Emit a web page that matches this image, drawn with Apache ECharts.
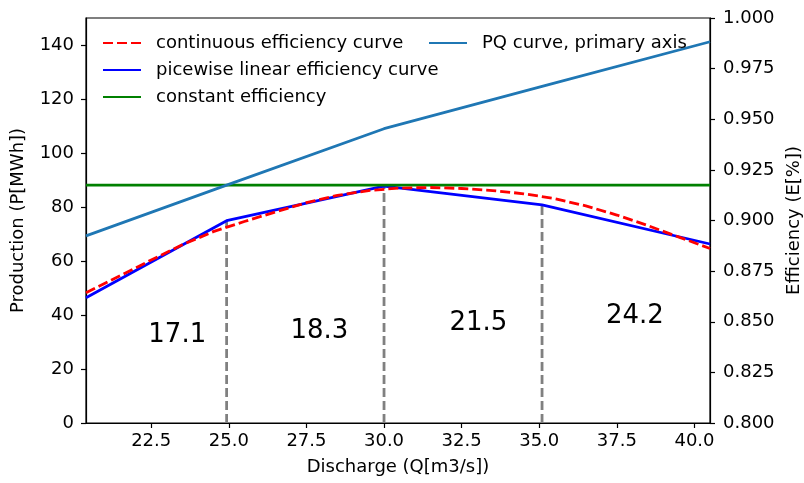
<!DOCTYPE html>
<html>
<head>
<meta charset="utf-8">
<script src="https://cdn.jsdelivr.net/npm/echarts@6/dist/echarts.min.js"></script>
<style>
  html, body { margin: 0; padding: 0; background: #fff; }
  #chart { width: 804px; height: 483px; }
</style>
</head>
<body>
<div id="chart"></div>
<script>
// discharge / production (primary axis)
const pqQ = [20.4, 24.93, 30.0, 35.09, 40.5];
const pqP = [69.3, 88.1, 109.0, 124.7, 141.2];

// efficiency (secondary axis)
const contQ = [20.4, 21.5, 22.5, 23.5, 24.5, 25.5, 26.5, 27.5, 28.5, 29.5, 30.5,
  31.5, 32.5, 33.5, 34.5, 35.5, 36.5, 37.5, 38.5, 39.5, 40.5];
const contE = [0.8643, 0.8727, 0.8805, 0.8880, 0.8945, 0.8995, 0.9042, 0.9088, 0.9124, 0.9148, 0.9160,
  0.9163, 0.9158, 0.9148, 0.9132, 0.9108, 0.9072, 0.9027, 0.8975, 0.8918, 0.8862];
const pieceQ = [20.4, 24.93, 30.0, 35.09, 40.5];
const pieceE = [0.8619, 0.8999, 0.9170, 0.9077, 0.8884];
const constE = 0.9175;

// segment borders and segment annotations
const breakQ = [24.93, 30.0, 35.09];
const breakE = [0.8999, 0.9170, 0.9077];
const segText = ["17.1", "18.3", "21.5", "24.2"];
const segTextQ = [23.34, 27.92, 33.04, 38.08];
const segTextP = [32.6, 33.8, 37.1, 39.6];

const xTicks = [22.5, 25, 27.5, 30, 32.5, 35, 37.5, 40];
const yTicks = [0, 20, 40, 60, 80, 100, 120, 140];
const y2Ticks = [0.8, 0.825, 0.85, 0.875, 0.9, 0.925, 0.95, 0.975, 1.0];

const font = "DejaVu Sans";
const chart = echarts.init(document.getElementById("chart"));

const zip = (a, b) => a.map((v, i) => [v, b[i]]);

const series = [
  {
    name: "continuous efficiency curve",
    type: "line", yAxisIndex: 1, symbol: "none", z: 4,
    data: zip(contQ, contE),
    lineStyle: { color: "#ff0000", width: 2.8, type: [10, 4] },
    itemStyle: { color: "#ff0000" },
  },
  {
    name: "picewise linear efficiency curve",
    type: "line", yAxisIndex: 1, symbol: "none", z: 3,
    data: zip(pieceQ, pieceE),
    lineStyle: { color: "#0000ff", width: 2.8 },
    itemStyle: { color: "#0000ff" },
  },
  {
    name: "constant efficiency",
    type: "line", yAxisIndex: 1, symbol: "none", z: 3,
    data: [[pqQ[0], constE], [pqQ[pqQ.length - 1], constE]],
    lineStyle: { color: "#008000", width: 2.8 },
    itemStyle: { color: "#008000" },
  },
  {
    name: "PQ curve, primary axis",
    type: "line", yAxisIndex: 0, symbol: "none", z: 3,
    data: zip(pqQ, pqP),
    lineStyle: { color: "#1f77b4", width: 2.8 },
    itemStyle: { color: "#1f77b4" },
  },
];

breakQ.forEach((q, i) => {
  series.push({
    type: "line", yAxisIndex: 1, symbol: "none", z: 2, silent: true,
    data: [[q, 0.8], [q, breakE[i]]],
    lineStyle: { color: "#808080", width: 2.8, type: [9, 4] },
  });
});

series.push({
  type: "scatter", yAxisIndex: 0, symbolSize: 0, silent: true,
  itemStyle: { opacity: 1 },
  data: segText.map((t, i) => ({ name: t, value: [segTextQ[i], segTextP[i]] })),
  label: {
    show: true, position: "inside", formatter: (p) => p.name,
    fontFamily: font, fontSize: 26, color: "#000", opacity: 1,
  },
});

const legendBase = {
  orient: "vertical",
  top: 34,
  padding: 0,
  itemWidth: 38,
  itemHeight: 18,
  itemGap: 9,
  itemStyle: { opacity: 0 },
  textStyle: { fontFamily: font, fontSize: 18, color: "#000", padding: [0, 0, 0, 10] },
};

chart.setOption({
  animation: false,
  backgroundColor: "#fff",
  textStyle: { fontFamily: font },
  grid: {
    left: 86, right: 94, top: 18, bottom: 60, outerBoundsMode: "none",
    show: true, borderColor: "#000", borderWidth: 1.2,
  },
  legend: [
    Object.assign({}, legendBase, {
      left: 102,
      data: ["continuous efficiency curve", "picewise linear efficiency curve", "constant efficiency"],
    }),
    Object.assign({}, legendBase, { left: 428, data: ["PQ curve, primary axis"] }),
  ],
  xAxis: {
    type: "value", min: 20.4, max: 40.5,
    name: "Discharge (Q[m3/s])", nameLocation: "middle", nameGap: 35,
    nameTextStyle: { fontFamily: font, fontSize: 18, color: "#000" },
    axisLine: { lineStyle: { color: "#000", width: 1.2 } },
    axisTick: { show: true, length: 5, lineStyle: { color: "#000", width: 1.2 }, customValues: xTicks },
    axisLabel: {
      fontFamily: font, fontSize: 18, color: "#000", margin: 9,
      customValues: xTicks, formatter: (v) => v.toFixed(1),
    },
    splitLine: { show: false },
  },
  yAxis: [
    {
      type: "value", min: 0, max: 150, position: "left",
      name: "Production (P[MWh])", nameLocation: "middle", nameGap: 59, nameRotate: 90,
      nameTextStyle: { fontFamily: font, fontSize: 18, color: "#000" },
      axisLine: { show: true, lineStyle: { color: "#000", width: 1.2 } },
      axisTick: { show: true, length: 5, lineStyle: { color: "#000", width: 1.2 }, customValues: yTicks },
      axisLabel: { fontFamily: font, fontSize: 18, color: "#000", margin: 12, customValues: yTicks },
      splitLine: { show: false },
    },
    {
      type: "value", min: 0.8, max: 1.0, position: "right",
      name: "Efficiency (E[%])", nameLocation: "middle", nameGap: 73, nameRotate: 90,
      nameTextStyle: { fontFamily: font, fontSize: 18, color: "#000" },
      axisLine: { show: true, lineStyle: { color: "#000", width: 1.2 } },
      axisTick: { show: true, length: 5, lineStyle: { color: "#000", width: 1.2 }, customValues: y2Ticks },
      axisLabel: {
        fontFamily: font, fontSize: 18, color: "#000", margin: 13,
        customValues: y2Ticks, formatter: (v) => v.toFixed(3),
      },
      splitLine: { show: false },
    },
  ],
  series: series,
});
</script>
</body>
</html>
